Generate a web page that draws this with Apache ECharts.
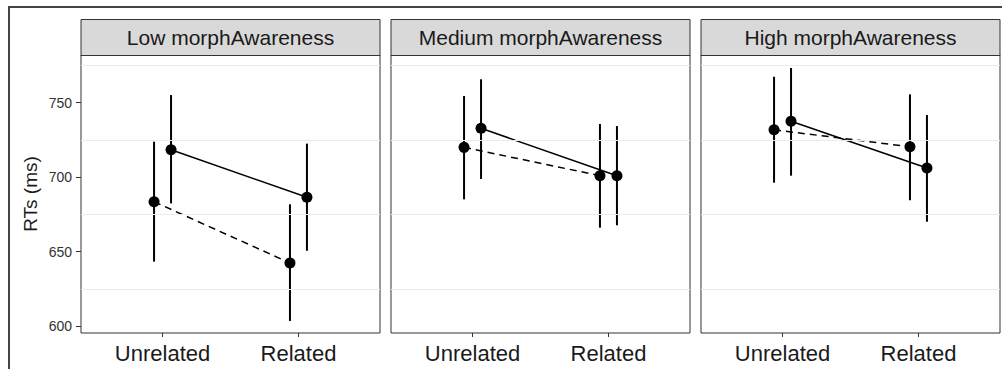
<!DOCTYPE html>
<html>
<head>
<meta charset="utf-8">
<script src="https://cdn.jsdelivr.net/npm/echarts@6/dist/echarts.min.js"></script>
<style>html,body{margin:0;padding:0;background:#fff}#c{width:1002px;height:369px}</style>
</head>
<body>
<div id="c"></div>
<script>
// ---- data ----
const categories = ['Unrelated', 'Related'];
const panels = ['Low morphAwareness', 'Medium morphAwareness', 'High morphAwareness'];
const yTicks = [600, 650, 700, 750];
const yMinorGrid = [625, 675, 725, 775];
// dashed series (one array per panel: [Unrelated, Related])
const dashedMean = [[683.4, 642.3], [719.9, 700.9], [731.7, 720.3]];
const dashedLow  = [[643.2, 603.4], [685.0, 666.0], [696.2, 684.4]];
const dashedHigh = [[723.7, 681.7], [754.4, 735.6], [767.3, 755.5]];
// solid series
const solidMean = [[718.3, 686.4], [732.7, 700.9], [737.4, 706.0]];
const solidLow  = [[682.3, 650.5], [698.7, 667.6], [700.9, 670.0]];
const solidHigh = [[755.0, 722.4], [765.6, 734.2], [773.2, 741.6]];

const dodge = 0.0625;
const grids = [], xAxes = [], yAxes = [], series = [], graphics = [];
const lefts = [81, 391, 701];
const W = 299, TOP = 55, H = 278;

function errRender(params, api) {
  const x = api.value(0);
  const p1 = api.coord([x, api.value(1)]);
  const p2 = api.coord([x, api.value(2)]);
  return {type: 'line', shape: {x1: p1[0], y1: p1[1], x2: p2[0], y2: p2[1]},
          style: {stroke: '#000', lineWidth: 2}};
}

panels.forEach((name, i) => {
  grids.push({left: lefts[i], top: TOP, width: W, height: H, show: true,
              backgroundColor: '#fff', borderColor: '#333', borderWidth: 1});
  xAxes.push({type: 'value', gridIndex: i, min: 0.4, max: 2.6,
    axisLine: {show: false}, splitLine: {show: false},
    axisTick: {show: true, customValues: [1, 2], length: 4, lineStyle: {color: '#333'}},
    axisLabel: {show: true, customValues: [1, 2], margin: 9, fontSize: 22, color: '#1a1a1a',
      fontFamily: 'Liberation Sans, Arial, sans-serif',
      formatter: v => categories[Math.round(v) - 1]}});
  yAxes.push({type: 'value', gridIndex: i, min: 595.3, max: 781.9,
    name: i === 0 ? 'RTs (ms)' : '', nameLocation: 'middle', nameGap: 41,
    nameTextStyle: {fontSize: 19, color: '#1a1a1a', fontFamily: 'Liberation Sans, Arial, sans-serif'},
    axisLine: {show: false}, splitLine: {show: false},
    axisTick: {show: i === 0, customValues: yTicks, length: 5, lineStyle: {color: '#333'}},
    axisLabel: {show: i === 0, customValues: yTicks, margin: 9, fontSize: 14, color: '#333',
      fontFamily: 'Liberation Sans, Arial, sans-serif'}});
  // minor grid lines
  series.push({type: 'line', xAxisIndex: i, yAxisIndex: i, data: [], z: 1, silent: true,
    markLine: {silent: true, symbol: 'none', label: {show: false},
      lineStyle: {color: '#ebebeb', width: 1, type: 'solid'},
      data: yMinorGrid.map(v => ({yAxis: v}))}});
  // error bars
  const errData = [];
  categories.forEach((c, k) => {
    errData.push([k + 1 - dodge, dashedLow[i][k], dashedHigh[i][k]]);
    errData.push([k + 1 + dodge, solidLow[i][k], solidHigh[i][k]]);
  });
  series.push({type: 'custom', xAxisIndex: i, yAxisIndex: i, z: 2, silent: true,
    renderItem: errRender, encode: {x: 0, y: [1, 2]}, data: errData});
  // dashed line
  series.push({type: 'line', xAxisIndex: i, yAxisIndex: i, z: 3, silent: true,
    symbol: 'circle', symbolSize: 11, itemStyle: {color: '#000'},
    lineStyle: {color: '#000', width: 1.5, type: [7, 5]},
    data: categories.map((c, k) => [k + 1 - dodge, dashedMean[i][k]])});
  // solid line
  series.push({type: 'line', xAxisIndex: i, yAxisIndex: i, z: 3, silent: true,
    symbol: 'circle', symbolSize: 11, itemStyle: {color: '#000'},
    lineStyle: {color: '#000', width: 1.5, type: 'solid'},
    data: categories.map((c, k) => [k + 1 + dodge, solidMean[i][k]])});
  // strip
  graphics.push({type: 'group', left: lefts[i] - 0.5, top: 19, children: [
    {type: 'rect', shape: {x: 0, y: 0, width: W, height: 36},
     style: {fill: '#d9d9d9', stroke: '#333', lineWidth: 1}},
    {type: 'text', x: W / 2, y: 18,
     style: {text: name, fontSize: 21, fill: '#1a1a1a', align: 'center', verticalAlign: 'middle',
       fontFamily: 'Liberation Sans, Arial, sans-serif'}}
  ]});
});

// outer frame
graphics.push({type: 'polyline', shape: {points: [[9, 369], [9, 7], [1002, 7]]},
  style: {stroke: '#444', lineWidth: 2, fill: null}});

const chart = echarts.init(document.getElementById('c'), null, {renderer: 'svg'});
chart.setOption({
  animation: false,
  backgroundColor: '#fff',
  grid: grids, xAxis: xAxes, yAxis: yAxes, series: series, graphic: graphics
});
</script>
</body>
</html>
